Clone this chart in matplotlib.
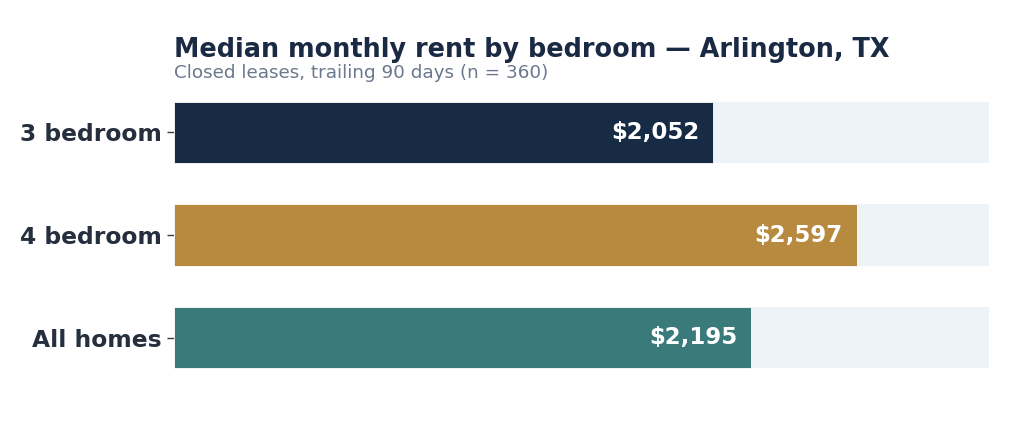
import matplotlib
matplotlib.use("Agg")
import matplotlib.pyplot as plt

plt.rcParams["font.family"] = ["DejaVu Sans"]

categories = ["3 bedroom", "4 bedroom", "All homes"]
rents = [2052, 2597, 2195]
track_max = 3100
colors = ["#172B45", "#B78A40", "#3A7A7A"]

fig = plt.figure(figsize=(10.24, 4.22), dpi=100)
ax = fig.add_axes([174 / 1024, 1 - 389 / 422, (989 - 174) / 1024, (389 - 81) / 422])

pos = list(range(len(categories)))
ax.barh(pos, [track_max] * len(pos), height=0.6, color="#EEF3F8", zorder=1)
ax.barh(pos, rents, height=0.6, color=colors, edgecolor="white", linewidth=0.6, zorder=2)

for y, v in zip(pos, rents):
    ax.annotate(f"${v:,}", (v, y), xytext=(-10, 0), textcoords="offset points",
                ha="right", va="center", color="white", fontsize=16.5,
                fontweight="bold", zorder=3)

ax.set_xlim(0, track_max)
ax.set_ylim(2.5, -0.5)
ax.set_yticks(pos)
ax.set_yticklabels(categories, fontsize=16.8, fontweight="bold", color="#252F3D")
ax.tick_params(axis="y", length=5, width=1, color="#333B47", pad=4)
ax.set_xticks([])
for s in ax.spines.values():
    s.set_visible(False)

fig.text(174 / 1024, 1 - 57 / 422, "Median monthly rent by bedroom — Arlington, TX",
         fontsize=18.4, fontweight="bold", color="#1B2A44", ha="left", va="baseline")
fig.text(174 / 1024, 1 - 78 / 422, "Closed leases, trailing 90 days (n = 360)",
         fontsize=13.2, color="#6B788C", ha="left", va="baseline")

fig.savefig("out.png", dpi=100)
